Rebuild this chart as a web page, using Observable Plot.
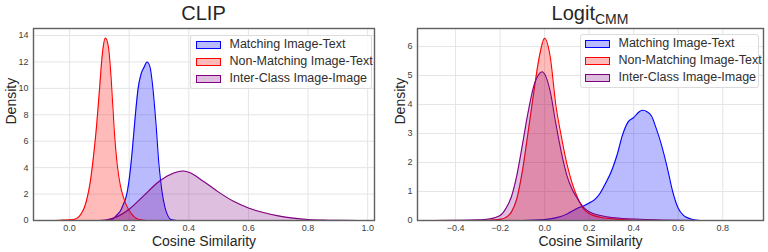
<!DOCTYPE html>
<html>
<head>
<meta charset="utf-8">
<script src="https://cdn.jsdelivr.net/npm/d3@7"></script>
<script src="https://cdn.jsdelivr.net/npm/@observablehq/plot@0.6"></script>
<style>
  body { margin: 0; background: white; }
  #wrap { position: relative; width: 768px; height: 252px; font-family: "Liberation Sans", Arial, sans-serif; }
  .panel { position: absolute; top: 0; }
  .legend { position: absolute; border: 1px solid #dcdcdc; border-radius: 3px; background: rgba(255,255,255,0.85); box-sizing: border-box; }
  .row { position: absolute; left: 0; height: 17px; width: 100%; }
  .patch { position: absolute; width: 25px; height: 8px; box-sizing: border-box; border-width: 1.4px; border-style: solid; }
  .lab { position: absolute; font-size: 12.5px; color: #2e2e2e; white-space: nowrap; line-height: 17px; }
  .title { position: absolute; font-size: 20px; color: #262626; white-space: nowrap; transform: translateX(-50%); line-height: 20px; }
  .title sub { font-size: 14px; vertical-align: -4px; line-height: 0; }
</style>
</head>
<body>
<div id="wrap"></div>
<script>
// ---- categories / styling lists ----
const seriesNames = ["Matching Image-Text", "Non-Matching Image-Text", "Inter-Class Image-Image"];
const seriesColors = ["blue", "red", "purple"];
const xLabel = "Cosine Similarity";
const yLabel = "Density";

// ---- CLIP panel ----
const clipTicksX = [0.0, 0.2, 0.4, 0.6, 0.8, 1.0];
const clipTicksY = [0, 2, 4, 6, 8, 10, 12, 14];
const clipMatchX = [0.13,0.14,0.15,0.16,0.17,0.18,0.19,0.20,0.21,0.22,0.23,0.24,0.25,0.26,0.27,0.28,0.29,0.30,0.31,0.32,0.33,0.34,0.36];
const clipMatchY = [0,0.05,0.2,0.45,0.7,1.2,1.8,3.1,5.2,7.8,10.0,11.1,11.6,12.0,11.6,9.9,7.3,4.2,2.2,1.0,0.35,0.08,0];
const clipNonX = [-0.07,-0.03,0.0,0.02,0.03,0.04,0.05,0.06,0.07,0.08,0.09,0.10,0.11,0.12,0.13,0.14,0.15,0.16,0.17,0.18,0.19,0.20,0.21,0.22,0.23,0.25,0.27];
const clipNonY = [0,0.02,0.05,0.12,0.25,0.55,1.0,1.8,3.0,4.8,7.0,9.8,12.6,13.8,13.2,10.6,6.8,4.2,2.7,1.8,1.2,0.75,0.45,0.22,0.1,0.02,0];
const clipInterX = [0.10,0.12,0.15,0.20,0.25,0.30,0.35,0.38,0.40,0.45,0.50,0.55,0.60,0.65,0.70,0.75,0.80,0.85,0.90,0.97];
const clipInterY = [0,0.03,0.2,0.85,1.9,2.95,3.6,3.75,3.65,2.95,2.15,1.45,0.95,0.6,0.35,0.18,0.08,0.03,0.01,0];

// ---- Logit_CMM panel ----
const cmmTicksX = [-0.4, -0.2, 0.0, 0.2, 0.4, 0.6, 0.8];
const cmmTicksY = [0, 1, 2, 3, 4, 5, 6];
const cmmMatchX = [-0.10,0.0,0.05,0.10,0.125,0.15,0.175,0.20,0.225,0.25,0.275,0.30,0.325,0.35,0.375,0.40,0.425,0.44,0.46,0.48,0.50,0.525,0.55,0.575,0.60,0.625,0.65,0.675,0.70];
const cmmMatchY = [0,0.03,0.09,0.22,0.33,0.43,0.5,0.6,0.72,0.95,1.3,1.7,2.25,2.95,3.4,3.55,3.75,3.8,3.75,3.6,3.2,2.6,1.85,1.0,0.42,0.17,0.07,0.02,0];
const cmmNonX = [-0.35,-0.25,-0.20,-0.175,-0.15,-0.125,-0.10,-0.075,-0.05,-0.025,0.0,0.025,0.05,0.075,0.10,0.125,0.15,0.175,0.20,0.25,0.30,0.35,0.40,0.50];
const cmmNonY = [0,0.01,0.04,0.1,0.28,0.75,1.7,3.0,4.35,5.6,6.28,5.65,4.0,2.9,1.95,1.25,0.75,0.4,0.24,0.11,0.06,0.03,0.01,0];
const cmmInterX = [-0.50,-0.40,-0.30,-0.25,-0.20,-0.175,-0.15,-0.125,-0.10,-0.075,-0.05,-0.025,-0.01,0.0,0.025,0.05,0.075,0.10,0.125,0.15,0.175,0.20,0.25,0.30,0.35,0.40,0.50,0.60,0.70];
const cmmInterY = [0,0.005,0.02,0.05,0.17,0.4,0.8,1.55,2.6,3.7,4.6,5.05,5.13,5.05,4.45,3.35,2.35,1.55,1.05,0.72,0.45,0.3,0.17,0.1,0.07,0.05,0.02,0.005,0];

function rows(xs, ys, s) { return xs.map((x, i) => ({x, y: ys[i], s})); }

const fmt = d3.format(".1f");
const font = "'Liberation Sans', Arial, sans-serif";

function panel({series, ticksX, ticksY, xDomain, yDomain, marginLeft, marginRight, yLabelDx}) {
  const marks = [
    Plot.gridX(ticksX, {stroke: "#e5e5e5", strokeOpacity: 1, strokeWidth: 1}),
    Plot.gridY(ticksY, {stroke: "#e5e5e5", strokeOpacity: 1, strokeWidth: 1}),
    Plot.axisX(ticksX, {tickSize: 0, tickPadding: 4, fontSize: 9, fill: "#404040", label: null, tickFormat: fmt}),
    Plot.axisY(ticksY, {tickSize: 0, tickPadding: 5, fontSize: 9, fill: "#404040", label: null})
  ];
  series.forEach((d, i) => {
    marks.push(Plot.areaY(d, {x: "x", y: "y", fill: seriesColors[i], fillOpacity: i === 2 ? 0.25 : 0.27, curve: "monotone-x"}));
    marks.push(Plot.lineY(d, {x: "x", y: "y", stroke: seriesColors[i], strokeWidth: 1.1, curve: "monotone-x"}));
  });
  marks.push(Plot.frame({stroke: "#606060", strokeWidth: 1.4}));
  marks.push(Plot.text([xLabel], {frameAnchor: "bottom", dy: 21, fontSize: 14, fill: "#262626", lineAnchor: "middle"}));
  marks.push(Plot.text([yLabel], {frameAnchor: "left", rotate: -90, dx: yLabelDx, fontSize: 14, fill: "#262626", lineAnchor: "middle"}));
  return Plot.plot({
    width: 384, height: 252,
    marginLeft, marginRight, marginTop: 28, marginBottom: 32,
    style: {fontFamily: font, background: "transparent", overflow: "visible"},
    x: {domain: xDomain},
    y: {domain: yDomain},
    marks
  });
}

const wrap = document.getElementById("wrap");

const left = panel({
  series: [rows(clipMatchX, clipMatchY, 0), rows(clipNonX, clipNonY, 1), rows(clipInterX, clipInterY, 2)],
  ticksX: clipTicksX, ticksY: clipTicksY,
  xDomain: [-0.121, 1.023], yDomain: [0, 14.53],
  marginLeft: 33, marginRight: 10, yLabelDx: -21.5
});
left.classList.add("panel"); left.style.left = "0px";
wrap.appendChild(left);

const right = panel({
  series: [rows(cmmMatchX, cmmMatchY, 0), rows(cmmNonX, cmmNonY, 1), rows(cmmInterX, cmmInterY, 2)],
  ticksX: cmmTicksX, ticksY: cmmTicksY,
  xDomain: [-0.571, 0.983], yDomain: [0, 6.62],
  marginLeft: 33, marginRight: 5, yLabelDx: -17
});
right.classList.add("panel"); right.style.left = "384px";
wrap.appendChild(right);

// titles
function addTitle(html, cx) {
  const t = document.createElement("div");
  t.className = "title";
  t.innerHTML = html;
  t.style.left = cx + "px";
  t.style.top = "3px";
  wrap.appendChild(t);
}
addTitle("CLIP", 203.5);
addTitle("Logit<sub>CMM</sub>", 590);

// legends
function addLegend(x, y, w, patchOff, textOff) {
  const L = document.createElement("div");
  L.className = "legend";
  L.style.left = x + "px"; L.style.top = y + "px";
  L.style.width = w + "px"; L.style.height = "54px";
  seriesNames.forEach((name, i) => {
    const r = document.createElement("div");
    r.className = "row";
    r.style.top = (0 + i * 17) + "px";
    const p = document.createElement("div");
    p.className = "patch";
    p.style.left = patchOff + "px";
    p.style.top = "4.5px";
    p.style.borderColor = seriesColors[i];
    p.style.background = d3.color(seriesColors[i]).copy({opacity: i === 2 ? 0.25 : 0.27}).formatRgb();
    const t = document.createElement("div");
    t.className = "lab";
    t.style.left = textOff + "px";
    t.style.top = "0px";
    t.textContent = name;
    r.appendChild(p); r.appendChild(t);
    L.appendChild(r);
  });
  wrap.appendChild(L);
}
addLegend(190, 35, 182, 4.5, 38.5);
addLegend(580, 34, 179, 3.5, 37.5);
</script>
</body>
</html>
